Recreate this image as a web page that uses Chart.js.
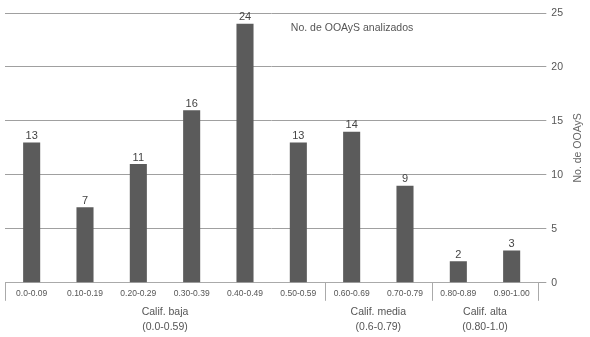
<!DOCTYPE html>
<html><head><meta charset="utf-8">
<script src="https://cdn.jsdelivr.net/npm/chart.js@4"></script>
<style>html,body{margin:0;padding:0;background:#fff}#w{width:590px;height:337px}</style>
</head><body><div id="w"><canvas id="c"></canvas></div>
<script>
const categories = ["0.0-0.09","0.10-0.19","0.20-0.29","0.30-0.39","0.40-0.49","0.50-0.59","0.60-0.69","0.70-0.79","0.80-0.89","0.90-1.00"];
const values = [13,7,11,16,24,13,14,9,2,3];
const groupNames = ["Calif. baja","Calif. media","Calif. alta"];
const groupRanges = ["(0.0-0.59)","(0.6-0.79)","(0.80-1.0)"];
const groupSizes = [6,2,2];
const seriesLabel = "No. de OOAyS analizados";
const yTitle = "No. de OOAyS";
const FONT = "'Liberation Sans', Arial, sans-serif";

const extras = {
  id:'extras',
  afterDatasetsDraw(chart){
    const ctx = chart.ctx, x = chart.scales.x, y = chart.scales.y, ca = chart.chartArea;
    ctx.save();
    ctx.fillStyle = '#444'; ctx.font = '11px '+FONT; ctx.textAlign='center'; ctx.textBaseline='bottom';
    const meta = chart.getDatasetMeta(0);
    meta.data.forEach((b,i)=>{ ctx.fillText(String(values[i]), b.x, b.y-1); });
    ctx.textAlign='left'; ctx.textBaseline='middle'; ctx.fillStyle='#555'; ctx.font='10.5px '+FONT;
    ctx.fillText(seriesLabel, ca.left + (ca.right-ca.left)*0.536, 28);
    const half = (x.getPixelForValue(1)-x.getPixelForValue(0))/2;
    ctx.strokeStyle='#aaa'; ctx.lineWidth=1;
    let idx=0;
    const bounds=[x.getPixelForValue(0)-half];
    groupSizes.forEach(s=>{ idx+=s; bounds.push(x.getPixelForValue(idx-1)+half); });
    bounds.forEach(bx=>{ const px=Math.round(bx)+0.5; ctx.beginPath(); ctx.moveTo(px, ca.bottom); ctx.lineTo(px, ca.bottom+18); ctx.stroke(); });
    ctx.fillStyle='#555'; ctx.font='10.5px '+FONT; ctx.textAlign='center'; ctx.textBaseline='middle';
    groupNames.forEach((g,i)=>{
      const cx=(bounds[i]+bounds[i+1])/2;
      ctx.fillText(g, cx, ca.bottom+29);
      ctx.fillText(groupRanges[i], cx, ca.bottom+44);
    });
    // y axis title, reading bottom to top
    ctx.translate(578, (ca.top+ca.bottom)/2);
    ctx.rotate(-Math.PI/2);
    ctx.fillStyle='#666'; ctx.textAlign='center'; ctx.textBaseline='middle';
    ctx.fillText(yTitle, 0, 0);
    ctx.restore();
  }
};

new Chart(document.getElementById('c'), {
  type:'bar',
  data:{ labels:categories, datasets:[{ label:seriesLabel, data:values, backgroundColor:'#5b5b5b', barPercentage:0.32, categoryPercentage:1 }]},
  options:{
    responsive:true, maintainAspectRatio:false, animation:false,
    layout:{ padding:{ left:5, top:13, right:22, bottom:32 } },
    plugins:{ legend:{display:false}, tooltip:{enabled:false} },
    scales:{
      x:{ grid:{ display:false, drawTicks:false }, border:{ display:true, color:'#aaa' },
          ticks:{ color:'#555', font:{ family:FONT, size:8.5 }, padding:6, maxRotation:0, autoSkip:false } },
      y:{ position:'right', min:0, max:25,
          grid:{ color:'#a0a0a0', tickLength:8, drawTicks:true, tickColor:'#a0a0a0' },
          border:{ display:false },
          ticks:{ stepSize:5, color:'#555', font:{ family:FONT, size:10.5 }, padding:5 },
          title:{ display:false } }
    }
  },
  plugins:[extras]
});
</script>
</body></html>
